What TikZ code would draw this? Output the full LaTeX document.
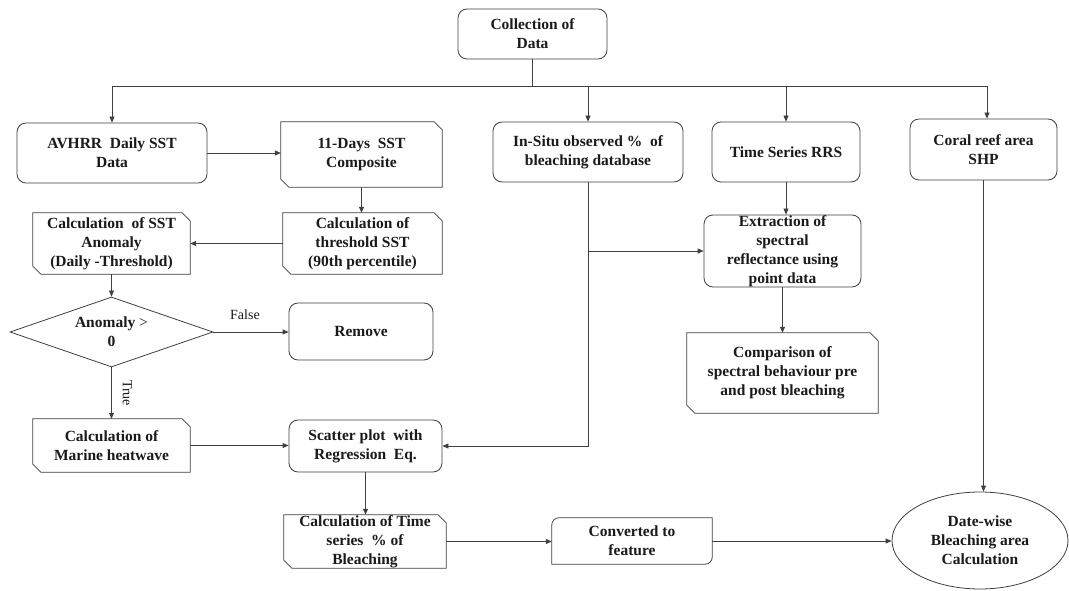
\documentclass[tikz,border=0pt]{standalone}
\usepackage{fontspec}
\setmainfont{Liberation Serif}
\usetikzlibrary{arrows.meta,shapes.geometric,calc}
\definecolor{ln}{HTML}{404040}
\definecolor{tx}{HTML}{1A1A1A}
\newcommand{\snipit}[1]{\draw[ln] (#1.north west) -- ([xshift=-8pt]#1.north east) -- ([yshift=-8pt]#1.north east) -- (#1.south east) -- ([xshift=8pt]#1.south west) -- ([yshift=8pt]#1.south west) -- cycle;}
\begin{document}
\begin{tikzpicture}[x=1pt,y=1pt,
  ln/.style={draw=ln,line width=0.8pt},
  arr/.style={ln,-{Triangle[length=6pt,width=5pt]}},
  base/.style={inner sep=0pt,align=center,text=tx,font=\bfseries\fontsize{15.5}{19}\selectfont},
  rbox/.style={base,rectangle,draw=ln,line width=0.8pt,rounded corners=9pt},
  sbox/.style={base,rectangle,draw=none},
  lbl/.style={inner sep=0pt,text=tx,font=\fontsize{14}{16}\selectfont}]
\fill[white] (0,0) rectangle (1069,590);
\useasboundingbox (0,0) rectangle (1069,590);

% nodes
\node[rbox,minimum width=149pt,minimum height=50pt] (col) at (532.5,556) {Collection of\\Data};
\node[rbox,minimum width=190pt,minimum height=60pt] (avh) at (112,437) {AVHRR\ \ Daily SST\\Data};
\node[sbox,minimum width=161pt,minimum height=65pt] (d11) at (361.5,435.5) {11-Days\ \ SST\\Composite};
\node[rbox,minimum width=190pt,minimum height=60pt] (ins) at (588,438) {In-Situ observed \%\ \ of\\bleaching database};
\node[rbox,minimum width=148pt,minimum height=60pt] (trs) at (786,438) {Time Series RRS};
\node[rbox,minimum width=147pt,minimum height=61pt] (cor) at (983.5,440.5) {Coral reef area\\SHP};
\node[sbox,minimum width=157pt,minimum height=61pt] (ano) at (111.5,346.5) {Calculation\ \ of SST\\Anomaly\\(Daily -Threshold)};
\node[sbox,minimum width=159pt,minimum height=61pt] (thr) at (362.5,346.5) {Calculation of\\threshold SST\\(90th percentile)};
\node[rbox,minimum width=157pt,minimum height=72pt] (ext) at (782.5,339) {Extraction of\\spectral\\reflectance using\\point data};
\node[base,diamond,draw=ln,line width=0.8pt,aspect=2.9,minimum width=203pt,minimum height=70pt] (dia) at (111.5,258) {Anomaly {\mdseries >}\\0};
\node[rbox,minimum width=144pt,minimum height=57pt] (rem) at (361,258.5) {Remove};
\node[sbox,minimum width=191pt,minimum height=80pt] (cmp) at (782.5,217) {Comparison of\\spectral behaviour pre\\and post bleaching};
\node[sbox,minimum width=157pt,minimum height=53pt] (mar) at (111.5,144.5) {Calculation of\\Marine heatwave};
\node[rbox,minimum width=153pt,minimum height=52pt] (sca) at (365.5,144) {Scatter plot\ \ with\\Regression\ \ Eq.};
\node[sbox,minimum width=162pt,minimum height=53pt] (tim) at (365,48.5) {Calculation of Time\\series\ \ \% of\\Bleaching};
\node[sbox,minimum width=160pt,minimum height=46pt] (cnv) at (632,49) {Converted to\\feature};
\node[base,ellipse,draw=ln,line width=0.8pt,minimum width=176pt,minimum height=97pt] (ell) at (980,49.5) {Date-wise\\Bleaching area\\Calculation};

% snipped outlines
\snipit{d11}
\snipit{ano}
\snipit{thr}
\snipit{cmp}
\snipit{mar}
\snipit{tim}
\draw[ln] ([yshift=-7pt]cnv.north west) arc[start angle=180,end angle=90,radius=7pt] -- (cnv.north east) -- ([yshift=7pt]cnv.south east) arc[start angle=0,end angle=-90,radius=7pt] -- (cnv.south west) -- cycle;

% bus
\coordinate (busL) at (112,504);
\coordinate (busR) at (987,504);
\draw[ln] (col.south) -- (col.south |- busL);
\draw[ln] (busL) -- (busR);
\draw[arr] (busL) -- (busL |- avh.north);
\draw[arr] (ins.north |- busL) -- (ins.north);
\draw[arr] (trs.north |- busL) -- (trs.north);
\draw[arr] (busR) -- (busR |- cor.north);

% left column
\draw[arr] (avh.east) -- (avh.east -| d11.west);
\draw[arr] (d11.south) -- (d11.south |- thr.north);
\draw[arr] (thr.west) -- (thr.west -| ano.east);
\draw[arr] (ano.south) -- (ano.south |- dia.north);
\draw[arr] (dia.east) -- coordinate[pos=0.42] (fmid) (dia.east -| rem.west);
\node[lbl] (tfalse) at ([yshift=17pt]fmid) {False};
\draw[arr] (dia.south) -- coordinate[pos=0.5] (tmid) (dia.south |- mar.north);
\node[lbl,rotate=-90] (ttrue) at ([xshift=16pt]tmid) {True};
\draw[arr] (mar.east) -- (mar.east -| sca.west);
\draw[arr] (sca.south) -- (sca.south |- tim.north);
\draw[arr] (tim.east) -- (tim.east -| cnv.west);
\draw[arr] (cnv.east) -- (cnv.east -| ell.west);

% middle / right
\draw[arr] (ins.south) |- (sca.east);
\coordinate (br) at (ins.south |- ext.west);
\draw[arr] (br) -- (ext.west);
\draw[arr] (trs.south) -- (trs.south |- ext.north);
\draw[arr] (ext.south) -- (ext.south |- cmp.north);
\draw[arr] (cor.south) -- (cor.south |- ell.north);
\end{tikzpicture}
\end{document}
